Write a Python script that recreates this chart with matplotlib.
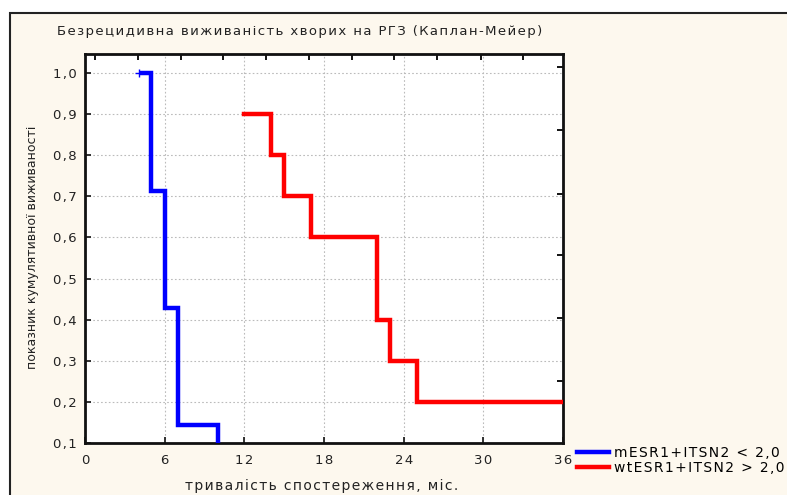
import matplotlib
matplotlib.use("Agg")
import matplotlib.pyplot as plt
from matplotlib.patches import Rectangle
from matplotlib.ticker import FuncFormatter

plt.rcParams['font.family'] = ['DejaVu Sans']

# Kaplan-Meier steps (time in months, survival)
blue_t = [4.3, 5, 5, 6, 6, 7, 7, 10, 10]
blue_s = [1.0, 1.0, 0.714, 0.714, 0.429, 0.429, 0.143, 0.143, 0.0]
blue_cens_t = [4.1]
blue_cens_s = [1.0]

red_t = [12, 14, 14, 15, 15, 17, 17, 22, 22, 23, 23, 25, 25, 36]
red_s = [0.9, 0.9, 0.8, 0.8, 0.7, 0.7, 0.6, 0.6, 0.4, 0.4, 0.3, 0.3, 0.2, 0.2]

labels = ["mESR1+ITSN2 < 2,0", "wtESR1+ITSN2 > 2,0"]
x_ticks = [0, 6, 12, 18, 24, 30, 36]
y_ticks = [0.1, 0.2, 0.3, 0.4, 0.5, 0.6, 0.7, 0.8, 0.9, 1.0]


def spaced(s):
    # statistica draws its text a bit letter-spaced
    return "\u200a".join(s)


W, H = 787, 495
fig = plt.figure(figsize=(W / 100, H / 100), dpi=100)
fig.patch.set_facecolor("white")

# cream panel with dark frame
fig.patches.append(Rectangle((10 / W, -0.05), 1.0, 1 - 13 / H + 0.05,
                             transform=fig.transFigure, facecolor="#fdf8ee",
                             edgecolor="#222222", linewidth=1.5, zorder=-10))

ax = fig.add_axes([85 / W, 1 - 443 / H, (563 - 85) / W, (443 - 54) / H])
ax.set_facecolor("white")

ax.plot(blue_t, blue_s, color="#0000ff", lw=3.2, label=spaced(labels[0]),
        solid_joinstyle="miter", zorder=3)
ax.plot(red_t, red_s, color="#ff0000", lw=3.2, label=spaced(labels[1]),
        solid_joinstyle="miter", zorder=3)
ax.plot(blue_cens_t, blue_cens_s, "+", color="#0000ff", ms=6, mew=1, zorder=4)

ax.set_xlim(0, 36)
ax.set_ylim(0.1, 1.046)
ax.set_xticks(x_ticks)
ax.set_yticks(y_ticks)
ax.xaxis.set_major_formatter(FuncFormatter(lambda v, p: spaced(f"{v:.0f}")))
ax.yaxis.set_major_formatter(FuncFormatter(lambda v, p: spaced(f"{v:.1f}".replace(".", ","))))
ax.grid(True, color="#bbbbbb", linestyle=(0, (1.5, 2)), linewidth=0.8)
ax.tick_params(axis="both", labelsize=9.5, length=4, width=1.3, direction="in",
               colors="#222222", pad=6)
ax.tick_params(axis="x", pad=8)
for sp in ax.spines.values():
    sp.set_linewidth(2)
    sp.set_color("#111111")

# statistica-style ticks on top and right
top = ax.secondary_xaxis("top")
top.set_xticks([0.75, 4.0, 7.2, 10.4, 13.6, 16.9, 20.1, 23.3, 26.5, 29.8, 33.0])
top.tick_params(direction="in", length=4, width=1.3, labeltop=False)
right = ax.secondary_yaxis("right")
right.set_yticks([1.014, 0.861, 0.706, 0.557, 0.404, 0.251])
right.tick_params(direction="in", length=4, width=1.3, labelright=False)

fig.text(57 / W, 1 - 32 / H, spaced("Безрецидивна виживаність хворих на РГЗ (Каплан-Мейер)"),
         fontsize=9.5, ha="left", va="center", color="#222222")
fig.text(33 / W, 1 - 247 / H, "показник кумулятивної виживаності", rotation=90,
         fontsize=9, ha="center", va="center", color="#222222",
         family="Liberation Sans Narrow")
fig.text(322 / W, 1 - 486 / H, spaced("тривалість спостереження, міс."),
         fontsize=10, ha="center", va="center", color="#222222")

fig.legend(loc="upper left", bbox_to_anchor=(574 / W, 1 - 443 / H), frameon=False,
           fontsize=10, handlelength=2.3, handletextpad=0.4, labelspacing=0.1,
           borderaxespad=0, borderpad=0.2)

fig.savefig("out.png", dpi=100, facecolor=fig.get_facecolor())
